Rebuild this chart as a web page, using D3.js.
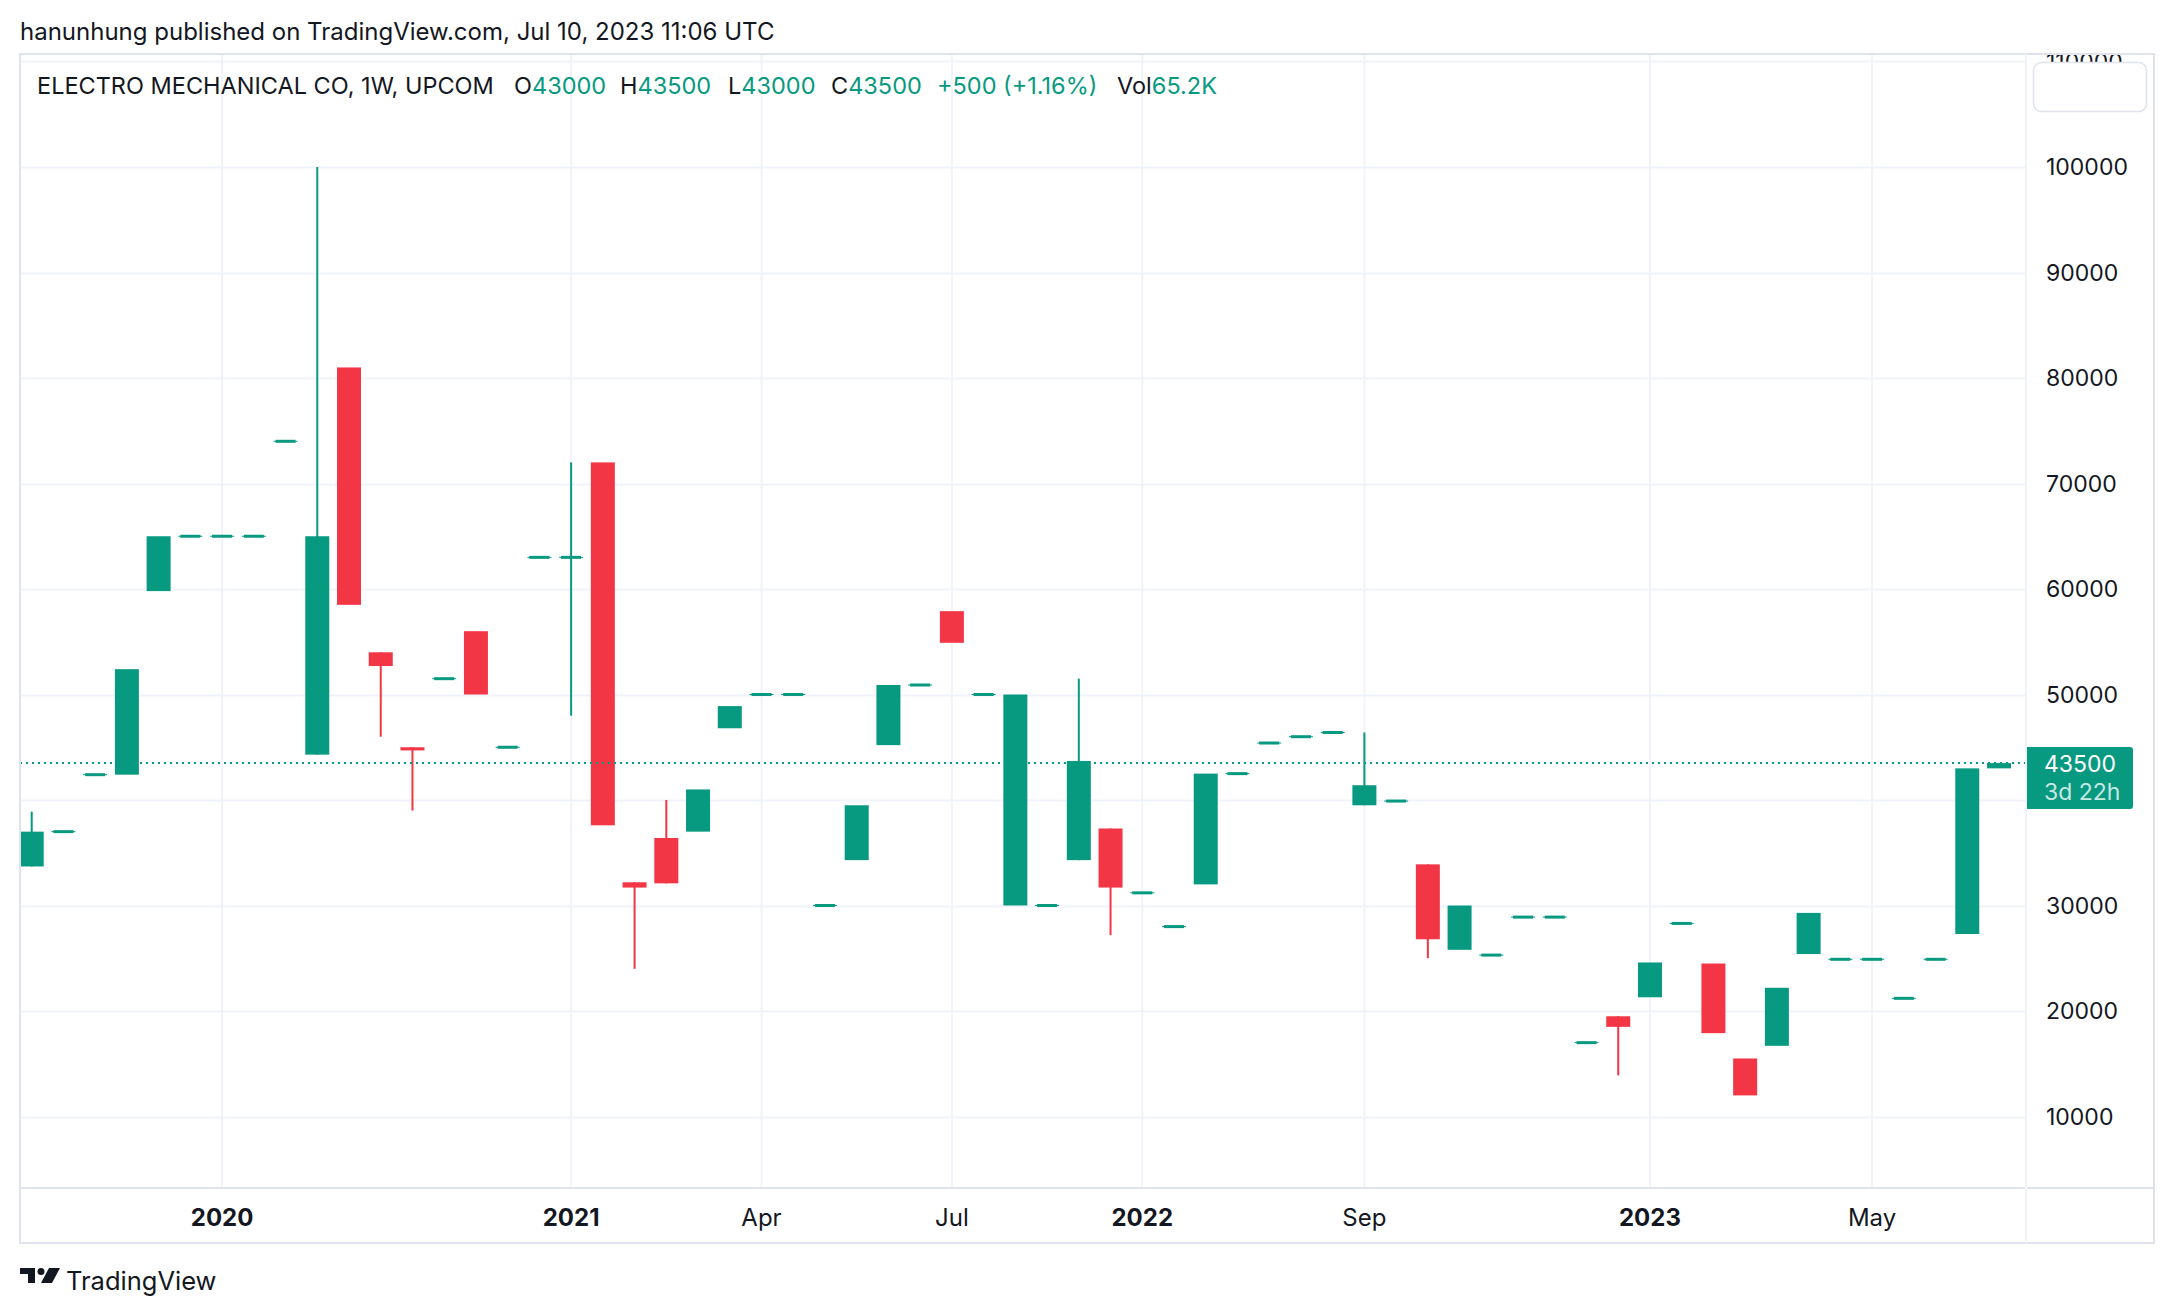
<!DOCTYPE html>
<html>
<head>
<meta charset="utf-8">
<script src="https://cdn.jsdelivr.net/npm/d3@7"></script>
<style>
  body { margin: 0; background: #fff; }
  svg { display: block; font-family: Inter, "Noto Sans", sans-serif; }
</style>
</head>
<body>
<svg id="chart"></svg>
<script>
// weekly bars, one per traded week (TradingView skips empty weeks)
const opens  = [33700,37000,42400,42400,59800,65000,65000,65000,74000,44300,
                81000,54000,45000,51500,56000,45000,63000,63000,72000,32200,
                36400,37000,46800,50000,50000,30000,34300,45200,50900,57900,
                50000,30000,30000,34300,37300,31200,28000,32000,42500,45400,
                46000,46400,39500,39900,33900,25800,25300,28900,28900,17000,
                19500,21300,28300,24500,15500,16700,25400,24900,24900,21200,
                24900,27300,43000];
const highs  = [38900,37000,42400,52400,65000,65000,65000,65000,74000,100000,
                81000,54000,45000,51500,56000,45000,63000,72000,72000,32200,
                40000,41000,48900,50000,50000,30000,39500,50900,50900,57900,
                50000,50000,30000,51500,37300,31200,28000,42500,42500,45400,
                46000,46400,46400,39900,33900,30000,25300,28900,28900,17000,
                19500,24600,28300,24500,15500,22200,29300,24900,24900,21200,
                24900,43000,43500];
const lows   = [33700,37000,42400,42400,59800,65000,65000,65000,74000,44300,
                58500,46000,39000,51500,50000,45000,63000,48000,37600,24000,
                32100,37000,46800,50000,50000,30000,34300,45200,50900,54900,
                50000,30000,30000,34300,27200,31200,28000,32000,42500,45400,
                46000,46400,39500,39900,25000,25800,25300,28900,28900,17000,
                13900,21300,28300,17900,12000,16700,25400,24900,24900,21200,
                24900,27300,43000];
const closes = [37000,37000,42400,52400,65000,65000,65000,65000,74000,65000,
                58500,52700,44700,51500,50000,45000,63000,63000,37600,31700,
                32100,41000,48900,50000,50000,30000,39500,50900,50900,54900,
                50000,50000,30000,43700,31700,31200,28000,42500,42500,45400,
                46000,46400,41400,39900,26800,30000,25300,28900,28900,17000,
                18500,24600,28300,17900,12000,22200,29300,24900,24900,21200,
                24900,43000,43500];

const tickIndex  = [6, 17, 23, 29, 35, 42, 51, 58];
const tickLabels = ["2020", "2021", "Apr", "Jul", "2022", "Sep", "2023", "May"];
const priceTicks = [10000, 20000, 30000, 40000, 50000, 60000, 70000, 80000, 90000, 100000, 110000];
const lastPrice = 43500;

const W = 2174, H = 1314;
const frame = { left: 20, top: 54, right: 2154, bottom: 1243 };
const plotRight = 2026, plotBottom = 1188;
const up = "#089981", down = "#f23645", ink = "#131722", line = "#e0e3eb", grid = "#f0f3fa";

const bars = opens.map((o, i) => ({ i, o, h: highs[i], l: lows[i], c: closes[i] }));

const x = d3.scaleLinear().domain([0, bars.length - 1]).range([31.7, 1999]);
const y = d3.scaleLinear().domain([10000, 100000]).range([1116.5, 167]);
const bodyW = 24;

const svg = d3.select("svg#chart")
    .attr("width", W)
    .attr("height", H);

svg.append("rect").attr("width", W).attr("height", H).attr("fill", "#fff");

const defs = svg.append("defs");
defs.append("clipPath").attr("id", "plot-clip")
    .append("rect")
    .attr("x", frame.left).attr("y", frame.top)
    .attr("width", plotRight - frame.left).attr("height", plotBottom - frame.top);
defs.append("clipPath").attr("id", "axis-clip")
    .append("rect")
    .attr("x", plotRight).attr("y", frame.top)
    .attr("width", frame.right - plotRight).attr("height", plotBottom - frame.top);

// ===== GRID =====
const plot = svg.append("g").attr("clip-path", "url(#plot-clip)");

plot.selectAll("line.hgrid")
    .data(priceTicks)
    .join("line")
    .attr("class", "hgrid")
    .attr("x1", frame.left).attr("x2", plotRight)
    .attr("y1", d => Math.round(y(d)) + 0.5).attr("y2", d => Math.round(y(d)) + 0.5)
    .attr("stroke", grid).attr("stroke-width", 2);

plot.selectAll("line.vgrid")
    .data(tickIndex)
    .join("line")
    .attr("class", "vgrid")
    .attr("x1", d => x(d)).attr("x2", d => x(d))
    .attr("y1", frame.top).attr("y2", plotBottom)
    .attr("stroke", grid).attr("stroke-width", 2);

// ===== CANDLES =====
const candle = plot.selectAll("g.candle")
    .data(bars)
    .join("g")
    .attr("class", "candle")
    .attr("fill", d => d.c >= d.o ? up : down);

candle.filter(d => d.h > Math.max(d.o, d.c) || d.l < Math.min(d.o, d.c))
    .append("rect")
    .attr("x", d => x(d.i) - 1)
    .attr("width", 2)
    .attr("y", d => y(d.h))
    .attr("height", d => y(d.l) - y(d.h));

candle.each(function (d) {
    const g = d3.select(this);
    const top = y(Math.max(d.o, d.c)), bot = y(Math.min(d.o, d.c));
    if (bot - top < 3) {
        // flat week: thin bar with slightly shorter thick core
        const mid = (top + bot) / 2;
        g.append("rect").attr("x", x(d.i) - bodyW / 2).attr("width", bodyW)
            .attr("y", mid - 0.5).attr("height", 1);
        g.append("rect").attr("x", x(d.i) - bodyW / 2 + 2).attr("width", bodyW - 4)
            .attr("y", mid - 1.5).attr("height", 3);
    } else {
        g.append("rect").attr("x", x(d.i) - bodyW / 2).attr("width", bodyW)
            .attr("y", top).attr("height", bot - top);
    }
});

// last price line
plot.append("line")
    .attr("x1", frame.left).attr("x2", plotRight)
    .attr("y1", y(lastPrice)).attr("y2", y(lastPrice))
    .attr("stroke", up).attr("stroke-width", 2)
    .attr("stroke-dasharray", "2,4");

// ===== PRICE AXIS =====
const axisG = svg.append("g").attr("clip-path", "url(#axis-clip)");
axisG.selectAll("text.price")
    .data(priceTicks)
    .join("text")
    .attr("class", "price")
    .attr("x", 2046)
    .attr("y", d => y(d))
    .attr("dy", "0.36em")
    .attr("font-size", 23)
    .attr("fill", ink)
    .text(d => d);

// top-right empty button
svg.append("rect")
    .attr("x", 2033.5).attr("y", 62.5).attr("width", 113).attr("height", 49)
    .attr("rx", 8).attr("fill", "#fff").attr("stroke", line).attr("stroke-width", 1.5);

// last price badge (sits on top of the 40000 label, as in TradingView)
const by = Math.round(y(lastPrice)) - 16;
svg.append("path")
    .attr("d", `M${plotRight},${by} H${2130} a3,3 0 0 1 3,3 V${by + 59} a3,3 0 0 1 -3,3 H${plotRight} Z`)
    .attr("fill", up);
svg.append("text")
    .attr("x", 2044).attr("y", by + 25)
    .attr("font-size", 23).attr("fill", "#fff")
    .text(d3.format("d")(lastPrice));
svg.append("text")
    .attr("x", 2044).attr("y", by + 53)
    .attr("font-size", 23).attr("fill", "#fff").attr("fill-opacity", 0.78)
    .text("3d 22h");

// ===== TIME AXIS =====
svg.selectAll("text.time")
    .data(tickIndex)
    .join("text")
    .attr("class", "time")
    .attr("x", d => x(d))
    .attr("y", 1226)
    .attr("text-anchor", "middle")
    .attr("font-size", 24)
    .attr("font-weight", (d, k) => /^\d{4}$/.test(tickLabels[k]) ? 700 : 400)
    .attr("fill", ink)
    .text((d, k) => tickLabels[k]);

// ===== FRAME =====
svg.append("rect")
    .attr("x", frame.left).attr("y", frame.top)
    .attr("width", frame.right - frame.left).attr("height", frame.bottom - frame.top)
    .attr("fill", "none").attr("stroke", line).attr("stroke-width", 2);
svg.append("line")
    .attr("x1", frame.left).attr("x2", frame.right)
    .attr("y1", plotBottom).attr("y2", plotBottom)
    .attr("stroke", line).attr("stroke-width", 2);
svg.append("line")
    .attr("x1", plotRight).attr("x2", plotRight)
    .attr("y1", frame.top).attr("y2", frame.bottom)
    .attr("stroke", grid).attr("stroke-width", 2);

// ===== TEXTS =====
svg.append("text")
    .attr("x", 20).attr("y", 40)
    .attr("font-size", 24).attr("fill", ink)
    .text("hanunhung published on TradingView.com, Jul 10, 2023 11:06 UTC");

const legend = [
    { x: 37,  parts: [["ELECTRO MECHANICAL CO, 1W, UPCOM", ink]] },
    { x: 514, parts: [["O", ink], ["43000", up]] },
    { x: 620, parts: [["H", ink], ["43500", up]] },
    { x: 728, parts: [["L", ink], ["43000", up]] },
    { x: 831, parts: [["C", ink], ["43500", up]] },
    { x: 937, parts: [["+500 (+1.16%)", up]] },
    { x: 1117, parts: [["Vol", ink], ["65.2K", up]] }
];
svg.selectAll("text.legend")
    .data(legend)
    .join("text")
    .attr("class", "legend")
    .attr("x", d => d.x).attr("y", 94)
    .attr("font-size", 23.5)
    .selectAll("tspan")
    .data(d => d.parts)
    .join("tspan")
    .attr("fill", d => d[1])
    .text(d => d[0]);

// TradingView logo
const logo = svg.append("g").attr("transform", "translate(20,1268)").attr("fill", ink);
logo.append("path").attr("d", "M0,0 H15 V15 H8 V6 H0 Z");
logo.append("circle").attr("cx", 21).attr("cy", 3.5).attr("r", 3.5);
logo.append("path").attr("d", "M29,0 H40 L32,15 H21 Z");
svg.append("text")
    .attr("x", 66).attr("y", 1290)
    .attr("font-size", 25.5).attr("fill", ink)
    .text("TradingView");
</script>
</body>
</html>
